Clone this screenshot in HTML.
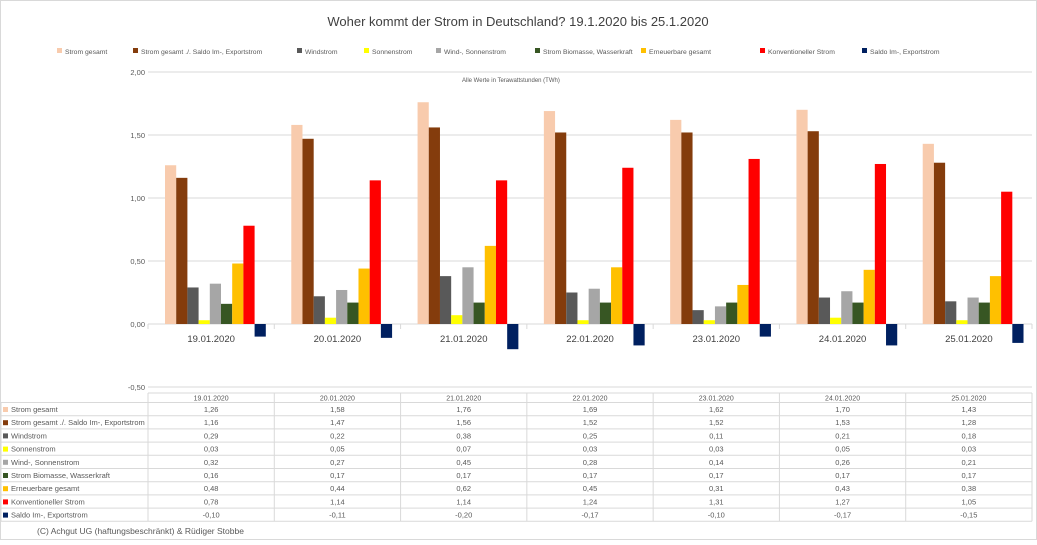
<!DOCTYPE html>
<html><head><meta charset="utf-8"><style>
body{margin:0;background:#fff;}
svg text{font-family:"Liberation Sans",sans-serif;}
</style></head><body>
<svg width="1037" height="540" xmlns="http://www.w3.org/2000/svg">
<rect x="0.5" y="0.5" width="1036" height="539" fill="#fff" stroke="#d9d9d9"/>
<text x="518" y="26" font-size="13" fill="#404040" text-anchor="middle">Woher kommt der Strom in Deutschland? 19.1.2020 bis 25.1.2020</text>
<g font-size="6.8" fill="#595959" id="legend"></g>
<text x="462" y="82" font-size="6" fill="#595959">Alle Werte in Terawattstunden (TWh)</text>
<g id="grid" stroke="#d9d9d9" stroke-width="1"></g>
<g id="ylab" font-size="7.5" fill="#595959" text-anchor="end"></g>
<g id="bars"></g>
<g id="cat" font-size="9.5" fill="#404040" text-anchor="middle"></g>
<g id="table" font-size="7.5" fill="#595959"></g>
<text x="37" y="534" font-size="8.5" fill="#595959">(C) Achgut UG (haftungsbeschränkt) &amp; Rüdiger Stobbe</text>
</svg>
<script>
(function(){
const NS="http://www.w3.org/2000/svg";
function el(p,t,a,txt){const e=document.createElementNS(NS,t);for(const k in a)e.setAttribute(k,a[k]);if(txt!==undefined)e.textContent=txt;document.getElementById(p).appendChild(e);return e;}
const names=["Strom gesamt","Strom gesamt ./. Saldo Im-, Exportstrom","Windstrom","Sonnenstrom","Wind-, Sonnenstrom","Strom Biomasse, Wasserkraft","Erneuerbare gesamt","Konventioneller Strom","Saldo Im-, Exportstrom"];
const cols=["#f8cbad","#843c0c","#595959","#ffff00","#a6a6a6","#375623","#ffc000","#ff0000","#002060"];
const dates=["19.01.2020","20.01.2020","21.01.2020","22.01.2020","23.01.2020","24.01.2020","25.01.2020"];
const d=[[1.26,1.58,1.76,1.69,1.62,1.70,1.43],[1.16,1.47,1.56,1.52,1.52,1.53,1.28],[0.29,0.22,0.38,0.25,0.11,0.21,0.18],[0.03,0.05,0.07,0.03,0.03,0.05,0.03],[0.32,0.27,0.45,0.28,0.14,0.26,0.21],[0.16,0.17,0.17,0.17,0.17,0.17,0.17],[0.48,0.44,0.62,0.45,0.31,0.43,0.38],[0.78,1.14,1.14,1.24,1.31,1.27,1.05],[-0.10,-0.11,-0.20,-0.17,-0.10,-0.17,-0.15]];
const lx=[57,133,297,364,436,535,641,760,862];
names.forEach((n,i)=>{el("legend","rect",{x:lx[i],y:48,width:5,height:5,fill:cols[i]});el("legend","text",{x:lx[i]+8,y:54},n);});
const y0=324,sc=126,X0=148,GW=884/7;
[2,1.5,1,0.5,0,-0.5].forEach(v=>{const y=y0-v*sc;el("grid","line",{x1:X0,x2:1032,y1:y,y2:y});el("ylab","text",{x:145,y:y+3},v.toFixed(2).replace(".",","));});
for(let g=0;g<7;g++){const gx=X0+g*GW;
 el("grid","line",{x1:gx,x2:gx,y1:324,y2:329});
 for(let s=0;s<9;s++){const v=d[s][g];const x=gx+17+s*11.2;const h=Math.abs(v)*sc;el("bars","rect",{x:x,y:v>=0?y0-h:y0,width:11.2,height:h,fill:cols[s]});}
 el("cat","text",{x:gx+GW/2,y:342},dates[g]);}
el("grid","line",{x1:1032,x2:1032,y1:324,y2:329});
const T="table",ty=393,hh=9.5,rh=13.2;
const bottom=ty+hh+9*rh;
el(T,"line",{x1:X0,x2:1032,y1:ty,y2:ty,stroke:"#d9d9d9"});
for(let r=0;r<=9;r++){const y=ty+hh+r*rh;el(T,"line",{x1:1,x2:1032,y1:y,y2:y,stroke:"#d9d9d9"});}
el(T,"line",{x1:1,x2:1,y1:ty+hh,y2:bottom,stroke:"#d9d9d9"});
for(let g=0;g<=7;g++){const x=X0+g*GW;el(T,"line",{x1:x,x2:x,y1:ty,y2:bottom,stroke:"#d9d9d9"});}
dates.forEach((dt,g)=>el(T,"text",{x:X0+g*GW+GW/2,y:ty+7.5,"text-anchor":"middle","font-size":"7"},dt));
names.forEach((n,s)=>{const y=ty+hh+s*rh;el(T,"rect",{x:3,y:y+4.5,width:5,height:5,fill:cols[s]});el(T,"text",{x:11,y:y+9.5},n);
 for(let g=0;g<7;g++)el(T,"text",{x:X0+g*GW+GW/2,y:y+9.5,"text-anchor":"middle"},d[s][g].toFixed(2).replace(".",","));});
})();
</script>
</body></html>
